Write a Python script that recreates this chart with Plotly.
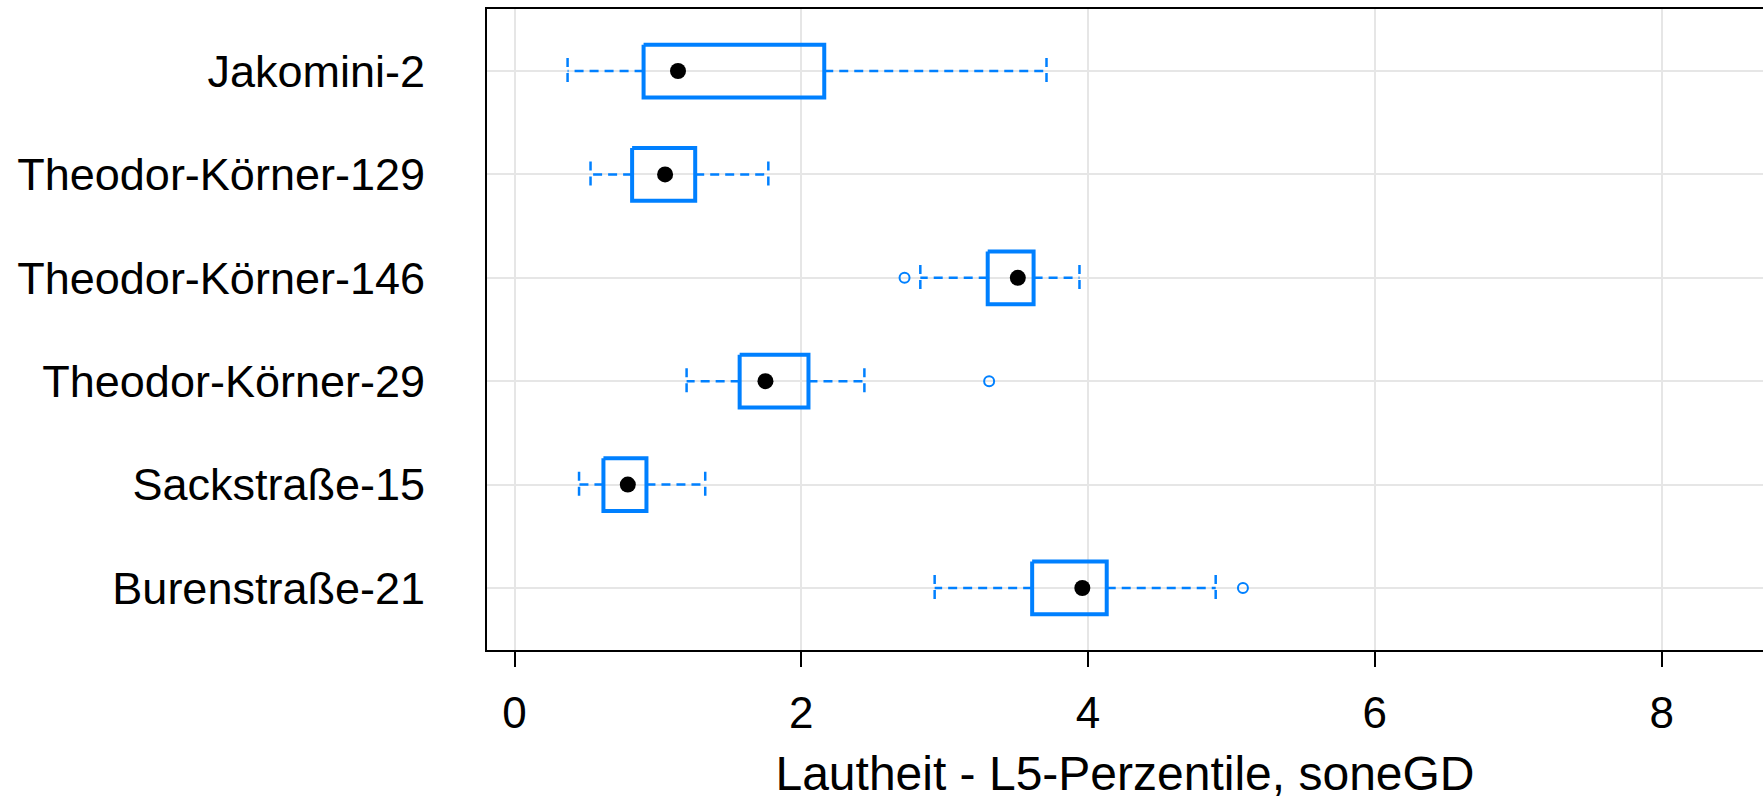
import plotly.graph_objects as go

# Measurement sites, listed top to bottom
sites = ["Jakomini-2", "Theodor-Körner-129", "Theodor-Körner-146",
         "Theodor-Körner-29", "Sackstraße-15", "Burenstraße-21"]

# Box-and-whisker statistics per site (sone GD)
lower_whisker = [0.37, 0.53, 2.83, 1.20, 0.45, 2.93]
q1 = [0.90, 0.82, 3.30, 1.57, 0.62, 3.61]
median = [1.14, 1.05, 3.51, 1.75, 0.79, 3.96]
q3 = [2.16, 1.26, 3.62, 2.05, 0.92, 4.13]
upper_whisker = [3.71, 1.77, 3.94, 2.44, 1.33, 4.89]

# Points beyond the whiskers
outlier_site = ["Theodor-Körner-146", "Theodor-Körner-29", "Burenstraße-21"]
outlier_value = [2.72, 3.31, 5.08]

x_ticks = [0, 2, 4, 6, 8]

BLUE = "#0080ff"
FONT = "Liberation Sans, Arial, sans-serif"
BOX_HALF = 0.255   # half box height in category units
CAP_HALF = 0.125   # half whisker-cap height

pos = {s: i for i, s in enumerate(sites)}

fig = go.Figure()

# boxes (q1..q3 rectangles)
bx, by = [], []
for i, s in enumerate(sites):
    bx += [q1[i], q3[i], q3[i], q1[i], q1[i], None]
    by += [i - BOX_HALF, i - BOX_HALF, i + BOX_HALF, i + BOX_HALF, i - BOX_HALF, None]
fig.add_trace(go.Scatter(x=bx, y=by, mode="lines",
                         line=dict(color=BLUE, width=4),
                         hoverinfo="skip", showlegend=False))

# dashed whiskers with caps
wx, wy = [], []
for i, s in enumerate(sites):
    wx += [q1[i], lower_whisker[i], None, q3[i], upper_whisker[i], None]
    wy += [i, i, None, i, i, None]
    for w in (lower_whisker[i], upper_whisker[i]):
        wx += [w, w, None]
        wy += [i - CAP_HALF, i + CAP_HALF, None]
fig.add_trace(go.Scatter(x=wx, y=wy, mode="lines",
                         line=dict(color=BLUE, width=2.5, dash="9px,6px"),
                         hoverinfo="skip", showlegend=False))

# medians as filled dots
fig.add_trace(go.Scatter(x=median, y=[pos[s] for s in sites], mode="markers",
                         marker=dict(color="black", size=16),
                         showlegend=False))

# outliers as open circles
fig.add_trace(go.Scatter(x=outlier_value, y=[pos[s] for s in outlier_site],
                         mode="markers",
                         marker=dict(symbol="circle-open", color=BLUE, size=10,
                                     line=dict(width=2, color=BLUE)),
                         showlegend=False))

fig.update_layout(
    width=1763, height=800,
    margin=dict(l=487, r=0, t=9, b=150),
    plot_bgcolor="white", paper_bgcolor="white",
    font=dict(family=FONT, size=45, color="black"),
    xaxis=dict(
        range=[-0.192, 8.707],
        tickvals=x_ticks, ticktext=[str(t) for t in x_ticks],
        showgrid=True, gridcolor="#e6e6e6", gridwidth=2,
        zeroline=False,
        showline=True, linecolor="black", linewidth=2, mirror=True,
        ticks="outside", ticklen=15, tickwidth=2, tickcolor="black",
        ticklabelstandoff=8,
        tickfont=dict(size=44),
        title=dict(text="Lautheit - L5-Perzentile, soneGD",
                   font=dict(size=48), standoff=23),
    ),
    yaxis=dict(
        range=[5.6, -0.6],
        tickvals=list(range(len(sites))), ticktext=sites,
        showgrid=True, gridcolor="#e6e6e6", gridwidth=2,
        zeroline=False,
        showline=True, linecolor="black", linewidth=2, mirror=False,
        ticks="", ticklabelstandoff=51,
        tickfont=dict(size=45),
    ),
)

fig.write_html("out.html")
